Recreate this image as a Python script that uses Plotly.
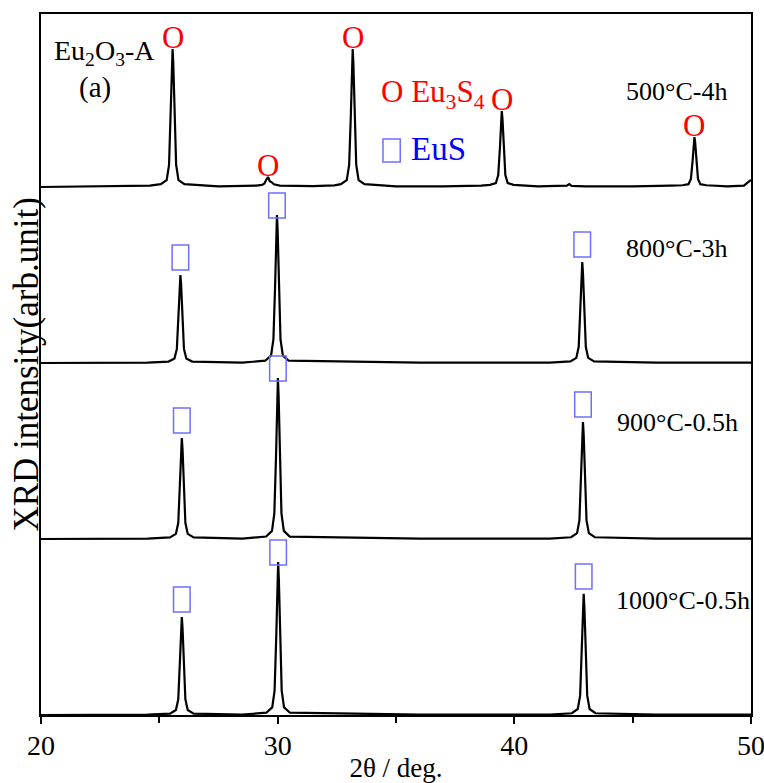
import plotly.graph_objects as go

# ---------------- data ----------------
labels = ["500°C-4h", "800°C-3h", "900°C-0.5h", "1000°C-0.5h"]
offsets = [3000, 2000, 1000, 0]   # vertical stacking of the patterns (arb. units)

x500 = [20.0, 23.0, 24.6,
        25.06, 25.31, 25.41, 25.48, 25.53, 25.56, 25.59, 25.64, 25.71, 25.81, 26.06,
        27.5, 29.0,
        29.09, 29.34, 29.44, 29.51, 29.56, 29.59, 29.62, 29.67, 29.74, 29.84, 30.09,
        31.5, 32.4,
        32.67, 32.92, 33.02, 33.09, 33.14, 33.17, 33.20, 33.25, 33.32, 33.42, 33.67,
        35.0, 37.0, 38.6,
        38.97, 39.22, 39.32, 39.39, 39.44, 39.47, 39.50, 39.55, 39.62, 39.72, 39.97,
        41.0, 42.0, 42.22, 42.32, 42.42, 43.0, 45.0, 46.6,
        47.11, 47.36, 47.46, 47.53, 47.58, 47.61, 47.64, 47.69, 47.76, 47.86, 48.11,
        49.0, 49.7, 50.0]
y500 = [0, 3, 8,
        16, 39, 125, 400, 700, 784, 700, 400, 125, 39, 16,
        4, 6,
        8, 12, 20, 38, 52, 57, 48, 32, 28, 15, 8,
        5, 9,
        16, 39, 125, 400, 700, 784, 700, 400, 125, 39, 16,
        4, 3, 8,
        12, 22, 68, 220, 385, 432, 385, 220, 68, 22, 12,
        4, 4, 8, 17, 6, 3, 3, 8,
        10, 16, 45, 145, 253, 284, 253, 145, 45, 16, 10,
        4, 8, 40]

x800 = [20.0, 24.5,
        25.39, 25.64, 25.74, 25.81, 25.86, 25.89, 25.92, 25.97, 26.04, 26.14, 26.39,
        28.5,
        29.47, 29.72, 29.82, 29.89, 29.94, 29.97, 30.00, 30.05, 30.12, 30.22, 30.47,
        36.0, 41.5,
        42.37, 42.62, 42.72, 42.79, 42.84, 42.87, 42.90, 42.95, 43.02, 43.12, 43.37,
        46.0, 50.0]
y800 = [0, 2,
        8, 25, 80, 255, 445, 500, 445, 255, 80, 25, 8,
        2,
        13, 42, 134, 429, 748, 841, 748, 429, 134, 42, 13,
        2, 2,
        9, 29, 92, 293, 511, 574, 511, 293, 92, 29, 9,
        2, 2]

x900 = [20.0, 24.5,
        25.45, 25.70, 25.80, 25.87, 25.92, 25.95, 25.98, 26.03, 26.10, 26.20, 26.45,
        28.5,
        29.51, 29.76, 29.86, 29.93, 29.98, 30.01, 30.04, 30.09, 30.16, 30.26, 30.51,
        36.0, 41.5,
        42.40, 42.65, 42.75, 42.82, 42.87, 42.90, 42.93, 42.98, 43.05, 43.15, 43.40,
        46.0, 50.0]
y900 = [0, 2,
        9, 29, 92, 293, 511, 574, 511, 293, 92, 29, 9,
        2,
        14, 46, 146, 467, 814, 915, 814, 467, 146, 46, 14,
        2, 2,
        10, 33, 106, 339, 592, 665, 592, 339, 106, 33, 10,
        2, 2]

x1000 = [20.0, 24.5,
         25.45, 25.70, 25.80, 25.87, 25.92, 25.95, 25.98, 26.03, 26.10, 26.20, 26.45,
         28.5,
         29.52, 29.77, 29.87, 29.94, 29.99, 30.02, 30.05, 30.10, 30.17, 30.27, 30.52,
         36.0, 41.5,
         42.43, 42.68, 42.78, 42.85, 42.90, 42.93, 42.96, 43.01, 43.08, 43.18, 43.43,
         46.0, 50.0]
y1000 = [0, 2,
         8, 28, 89, 284, 496, 557, 496, 284, 89, 28, 8,
         2,
         13, 43, 139, 443, 773, 869, 773, 443, 139, 43, 13,
         2, 2,
         10, 34, 110, 351, 612, 688, 612, 351, 110, 34, 10,
         2, 2]

xs = [x500, x800, x900, x1000]
ys = [y500, y800, y900, y1000]

# phase-marked peaks (position, height above baseline)
eu3s4_pos = [25.56, 29.59, 33.17, 39.47, 47.61]
eu3s4_h = [784, 57, 784, 432, 284]
eus_pos = [[25.89, 29.97, 42.87], [25.95, 30.01, 42.90], [25.95, 30.02, 42.93]]
eus_h = [[500, 841, 574], [574, 915, 665], [557, 869, 688]]

x_tickvals = [20, 30, 40, 50]
x_ticktext = ["20", "30", "40", "50"]

# ---------------- figure ----------------
SERIF = "Liberation Serif, Times New Roman, serif"
RED = "#ff0000"
BLUE = "#0000ff"
BOX = "#6e6eff"
UNIT_PER_PX = 1000 / 176.0

fig = go.Figure()
for x, y, off in zip(xs, ys, offsets):
    fig.add_trace(go.Scatter(x=x, y=[v + off for v in y], mode="lines",
                             line=dict(color="black", width=2.2),
                             showlegend=False, hoverinfo="skip"))

annotations = []
shapes = []

# Eu3S4 markers on the 500°C pattern
for p, h in zip(eu3s4_pos, eu3s4_h):
    annotations.append(dict(x=p, y=offsets[0] + h, xref="x", yref="y", text="O",
                            showarrow=False, yanchor="bottom", yshift=-8,
                            font=dict(family=SERIF, size=31, color=RED)))

# EuS boxes on the other patterns
for k in range(3):
    off = offsets[k + 1]
    for p, h in zip(eus_pos[k], eus_h[k]):
        gap = -3 if abs(p - 30) < 0.3 else 5
        y0 = off + h + gap * UNIT_PER_PX
        shapes.append(dict(type="rect", xref="x", yref="y",
                           x0=p - 0.35, x1=p + 0.35, y0=y0, y1=y0 + 25 * UNIT_PER_PX,
                           line=dict(color=BOX, width=1.5), fillcolor="rgba(0,0,0,0)"))

# pattern labels
label_dx = [44.65, 44.65, 44.25, 44.2]
label_dy = [96, 115, 117, 115]
for lab, off, lx, ly in zip(labels, offsets, label_dx, label_dy):
    annotations.append(dict(x=lx, y=off + ly * UNIT_PER_PX, xref="x", yref="y",
                            text=lab, showarrow=False, xanchor="left", yanchor="middle",
                            font=dict(family=SERIF, size=26, color="black")))

# legend
annotations.append(dict(x=34.3, y=(716 - 95) * UNIT_PER_PX, xref="x", yref="y",
                        text="O Eu<sub>3</sub>S<sub>4</sub>", showarrow=False,
                        xanchor="left", yanchor="middle",
                        font=dict(family=SERIF, size=31, color=RED)))
shapes.append(dict(type="rect", xref="x", yref="y", x0=34.45, x1=35.18,
                   y0=(716 - 163) * UNIT_PER_PX, y1=(716 - 140) * UNIT_PER_PX,
                   line=dict(color=BOX, width=1.5)))
annotations.append(dict(x=35.55, y=(716 - 150) * UNIT_PER_PX, xref="x", yref="y",
                        text="EuS", showarrow=False, xanchor="left", yanchor="middle",
                        font=dict(family=SERIF, size=33, color=BLUE)))

# sample name
annotations.append(dict(x=20.45, y=(716 - 53) * UNIT_PER_PX, xref="x", yref="y",
                        text="Eu<sub>2</sub>O<sub>3</sub>-A", showarrow=False,
                        xanchor="left", yanchor="middle",
                        font=dict(family=SERIF, size=28, color="black")))
annotations.append(dict(x=21.5, y=(716 - 88) * UNIT_PER_PX, xref="x", yref="y",
                        text="(a)", showarrow=False, xanchor="left", yanchor="middle",
                        font=dict(family=SERIF, size=29, color="black")))

# y-axis title
annotations.append(dict(x=-0.021, y=0.5, xref="paper", yref="paper",
                        text="XRD intensity(arb.unit)", showarrow=False, textangle=-90,
                        xanchor="center", yanchor="middle",
                        font=dict(family=SERIF, size=35, color="black")))

fig.update_layout(
    width=764, height=783,
    margin=dict(l=41, r=13, t=14, b=68, autoexpand=False),
    paper_bgcolor="white", plot_bgcolor="white",
    annotations=annotations, shapes=shapes,
    xaxis=dict(range=[20, 50], tickvals=x_tickvals, ticktext=x_ticktext,
               automargin=False, ticklabeloverflow="allow", ticklabelstandoff=-3,
               ticks="outside", ticklen=7, tickwidth=1.5, tickcolor="black",
               minor=dict(tickvals=[25, 35, 45], ticks="outside", ticklen=6,
                          tickwidth=1.5, tickcolor="black"),
               showline=True, linecolor="black", linewidth=2, mirror=True,
               showgrid=False, zeroline=False,
               tickfont=dict(family=SERIF, size=28, color="black"),
               title=dict(text="2θ / deg.", font=dict(family=SERIF, size=27, color="black"),
                          standoff=0)),
    yaxis=dict(range=[0, 701 * UNIT_PER_PX], showticklabels=False, ticks="",
               automargin=False,
               showline=True, linecolor="black", linewidth=2, mirror=True,
               showgrid=False, zeroline=False),
)

fig.write_html("out.html")
